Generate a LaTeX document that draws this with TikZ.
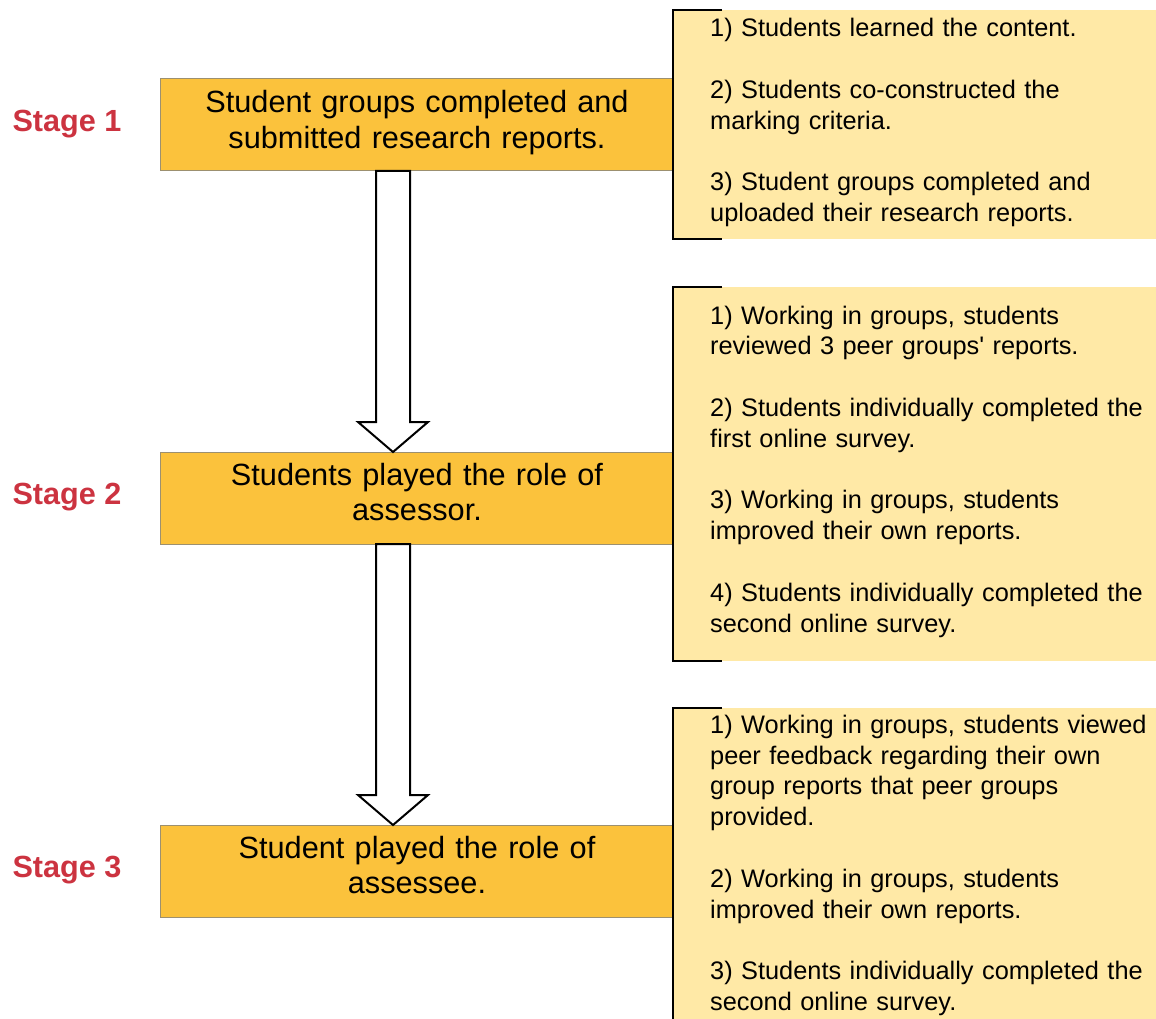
\documentclass[tikz,border=0pt]{standalone}
\usepackage{fontspec}
\setmainfont{Liberation Sans}
\usetikzlibrary{calc}
\definecolor{stagefill}{HTML}{FBC23C}
\definecolor{notefill}{HTML}{FFE9A6}
\definecolor{stagered}{HTML}{CC3340}
\definecolor{boxline}{HTML}{9C9070}
\tikzset{
  stagebox/.style={draw=boxline, line width=1pt, fill=stagefill, minimum width=512pt, minimum height=92pt, inner sep=0pt, outer sep=0pt},
  boxtext/.style={text width=512pt, align=center, inner sep=0pt, anchor=base, font=\fontsize{30.7pt}{35.7pt}\selectfont},
  stagelabel/.style={text=stagered, inner sep=0pt, anchor=base, font=\fontsize{30.6pt}{36pt}\selectfont\bfseries},
  notebg/.style={fill=notefill, draw=none},
  bracket/.style={draw=black, line width=2pt},
  notetext/.style={text width=446pt, align=left, inner sep=0pt, anchor=base west, font=\fontsize{25.35pt}{30.8pt}\selectfont},
  hollow/.style={draw=black, fill=white, line width=2pt, line join=miter}
}
\begin{document}
\begin{tikzpicture}[x=1pt, y=-1pt]
\useasboundingbox (0,0) rectangle (1156,1019);
% note backgrounds
\fill[notebg] (673,10) rectangle (1156,239);
\fill[notebg] (673,287) rectangle (1156,661);
\fill[notebg] (673,708) rectangle (1156,1025);
% stage boxes
\node[stagebox] (s1) at (416,125) {};
\node[stagebox] (s2) at (416,498) {};
\node[stagebox] (s3) at (416,871) {};
% brackets
\draw[bracket] (722,10) -- (673,10) -- (673,239) -- (722,239);
\draw[bracket] (722,287) -- (673,287) -- (673,661) -- (722,661);
\draw[bracket] (722,708) -- (673,708) -- (673,1025) -- (722,1025);
% stage box texts
\node[boxtext] (t1) at (417,112.7) {Student groups completed and\\submitted research reports.};
\node[boxtext] (t2) at (417,485) {Students played the role of\\assessor.};
\node[boxtext] (t3) at (417,858) {Student played the role of\\assessee.};
% stage labels
\node[stagelabel] (l1) at (67,131.7) {Stage 1};
\node[stagelabel] (l2) at (67,504.7) {Stage 2};
\node[stagelabel] (l3) at (67,877.7) {Stage 3};
% notes
\node[notetext] (n1) at (710,37) {1) Students learned the content.\\[30.8pt]
2) Students co-constructed the\\marking criteria.\\[30.8pt]
3) Student groups completed and\\uploaded their research reports.};
\node[notetext] (n2) at (710,324) {1) Working in groups, students\\reviewed 3 peer groups\textquotesingle{} reports.\\[30.8pt]
2) Students individually completed the\\first online survey.\\[30.8pt]
3) Working in groups, students\\improved their own reports.\\[30.8pt]
4) Students individually completed the\\second online survey.};
\node[notetext] (n3) at (710,733.3) {1) Working in groups, students viewed\\peer feedback regarding their own\\group reports that peer groups\\provided.\\[30.8pt]
2) Working in groups, students\\improved their own reports.\\[30.8pt]
3) Students individually completed the\\second online survey.};
% arrows
\coordinate (ax) at (393,0);
\draw[hollow] let \p1=(ax |- s1.south), \p2=(ax |- s2.north) in
  (\x1-17pt,\y1) -- (\x1-17pt,\y2+30pt) -- (\x1-35pt,\y2+30pt) -- (\x1,\y2)
  -- (\x1+35pt,\y2+30pt) -- (\x1+17pt,\y2+30pt) -- (\x1+17pt,\y1) -- cycle;
\draw[hollow] let \p1=(ax |- s2.south), \p2=(ax |- s3.north) in
  (\x1-17pt,\y1) -- (\x1-17pt,\y2+30pt) -- (\x1-35pt,\y2+30pt) -- (\x1,\y2)
  -- (\x1+35pt,\y2+30pt) -- (\x1+17pt,\y2+30pt) -- (\x1+17pt,\y1) -- cycle;
\end{tikzpicture}
\end{document}
